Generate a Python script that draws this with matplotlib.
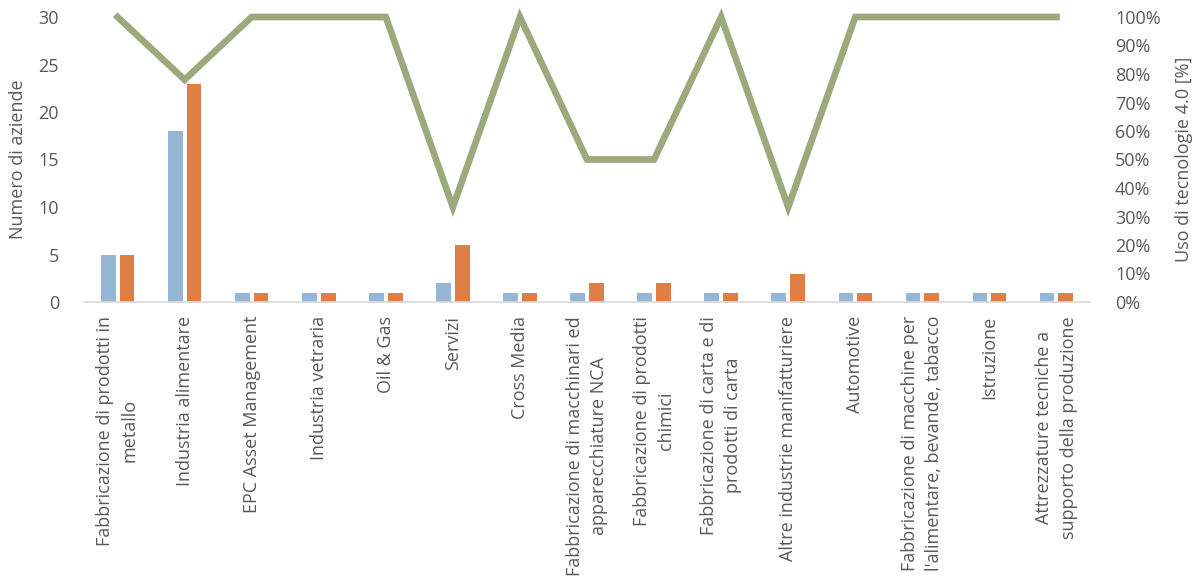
import matplotlib
matplotlib.use("Agg")
import matplotlib.pyplot as plt
import numpy as np

categories = [
    "Fabbricazione di prodotti in\nmetallo",
    "Industria alimentare",
    "EPC Asset Management",
    "Industria vetraria",
    "Oil & Gas",
    "Servizi",
    "Cross Media",
    "Fabbricazione di macchinari ed\napparecchiature NCA",
    "Fabbricazione di prodotti\nchimici",
    "Fabbricazione di carta e di\nprodotti di carta",
    "Altre industrie manifatturiere",
    "Automotive",
    "Fabbricazione di macchine per\nl'alimentare, bevande, tabacco",
    "Istruzione",
    "Attrezzature tecniche a\nsupporto della produzione",
]
series_blue = [5, 18, 1, 1, 1, 2, 1, 1, 1, 1, 1, 1, 1, 1, 1]
series_orange = [5, 23, 1, 1, 1, 6, 1, 2, 2, 1, 3, 1, 1, 1, 1]
uso_pct = [1.0, 0.78, 1.0, 1.0, 1.0, 0.333, 1.0, 0.5, 0.5, 1.0, 0.333, 1.0, 1.0, 1.0, 1.0]

plt.rcParams['font.family'] = ['Open Sans', 'DejaVu Sans']
txt = '#595959'
fs = 13

fig = plt.figure(figsize=(11.96, 5.84), dpi=100)
ax = fig.add_axes([84/1196, 1-302/584, (1090-84)/1196, (302-17)/584])
ax2 = ax.twinx()

x = np.arange(len(categories))
w = 0.22
ax.bar(x - 0.03 - w/2, series_blue, width=w, color='#95B6D4', zorder=2)
ax.bar(x + 0.03 + w/2, series_orange, width=w, color='#E07F45', zorder=2)
ax2.plot(x, uso_pct, color='#9DA97C', lw=4.8, clip_on=False, solid_joinstyle='miter')

ax.set_xlim(-0.5, len(categories) - 0.5)
ax.set_ylim(0, 30)
ax.set_yticks(range(0, 31, 5))
ax2.set_ylim(0, 1)
ax2.set_yticks(np.arange(0, 1.01, 0.1))
ax2.set_yticklabels([f"{int(round(v*100))}%" for v in np.arange(0, 1.01, 0.1)])

ax.set_xticks(x)
ax.set_xticklabels(categories, rotation=90, ha='center', va='top',
                   multialignment='center', linespacing=1.45)

for a in (ax, ax2):
    for s in a.spines.values():
        s.set_visible(False)
    a.tick_params(length=0, labelsize=fs, labelcolor=txt)
ax.spines['bottom'].set_visible(True)
ax.spines['bottom'].set_color('#D9D9D9')
ax.spines['bottom'].set_linewidth(1.2)
ax.tick_params(axis='y', pad=18)
ax.tick_params(axis='x', pad=10)
ax2.tick_params(axis='y', pad=18)

ax.set_ylabel("Numero di aziende", fontsize=fs, color=txt, labelpad=8)
ax2.set_ylabel("Uso di tecnologie 4.0 [%]", fontsize=fs, color=txt, labelpad=10)

fig.savefig("out.png", dpi=100)
